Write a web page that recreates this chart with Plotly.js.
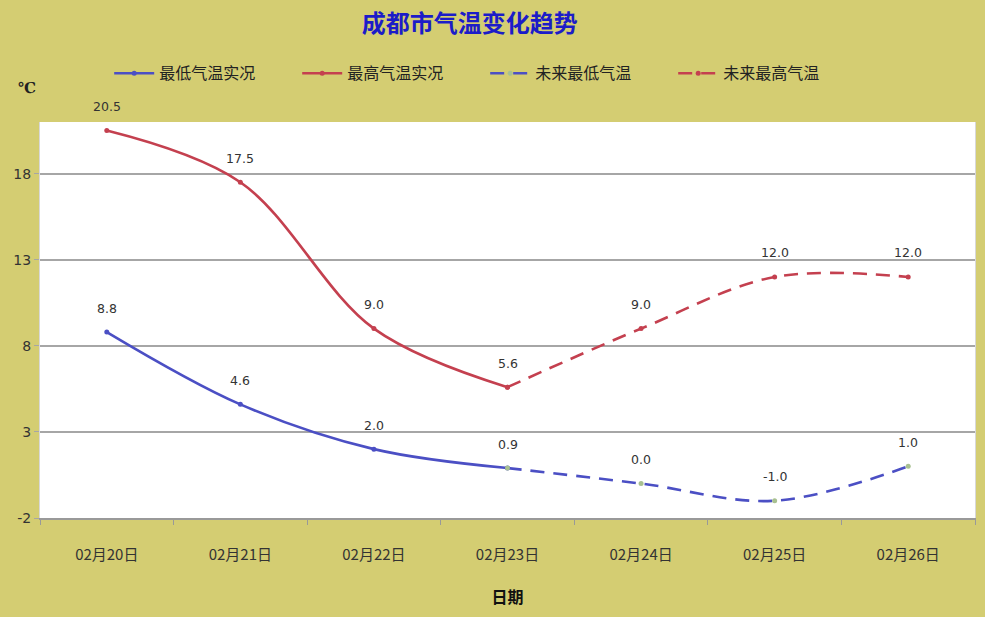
<!DOCTYPE html>
<html>
<head>
<meta charset="utf-8">
<script src="https://cdn.plot.ly/plotly-3.0.1.min.js"></script>
<style>html,body{margin:0;padding:0;background:#d4cd72;}#chart{width:985px;height:617px;}</style>
</head>
<body>
<div id="chart"></div>
<script>
const dates = ["02月20日","02月21日","02月22日","02月23日","02月24日","02月25日","02月26日"];
const lowTemps = [8.8, 4.6, 2.0, 0.9, 0.0, -1.0, 1.0];
const highTemps = [20.5, 17.5, 9.0, 5.6, 9.0, 12.0, 12.0];
const actualIdx = [0, 1, 2, 3];
const forecastIdx = [3, 4, 5, 6];
const yTicks = [-2, 3, 8, 13, 18];

const cjk = '"Noto Sans CJK SC", "Noto Sans", sans-serif';
const blue = '#4b4fc4';
const red = '#c4404f';

function pick(arr, idx) { return idx.map(i => arr[i]); }

function trace(name, idx, vals, color, dash, mcolor) {
  return {
    type: 'scatter', mode: 'lines+markers', name: name,
    x: pick(dates, idx), y: pick(vals, idx),
    line: {color: color, width: 2.6, dash: dash, shape: 'spline', smoothing: 1},
    marker: {size: 5, color: mcolor || color},
    hoverinfo: 'x+y'
  };
}

const dashPat = '14px,9px';
const data = [
  trace('最低气温实况', actualIdx, lowTemps, blue, 'solid'),
  trace('最高气温实况', actualIdx, highTemps, red, 'solid'),
  trace('未来最低气温', forecastIdx, lowTemps, blue, dashPat, '#a8c090'),
  trace('未来最高气温', forecastIdx, highTemps, red, dashPat)
];

const annotations = [];
[lowTemps, highTemps].forEach(vals => {
  vals.forEach((v, i) => {
    annotations.push({
      x: dates[i], y: v, xref: 'x', yref: 'y', text: v.toFixed(1),
      showarrow: false, yshift: 24,
      font: {family: '"DejaVu Sans", sans-serif', size: 12.5, color: '#333333'}
    });
  });
});
annotations.push({
  xref: 'paper', yref: 'paper', x: -0.014, y: 1.085, xanchor: 'center', yanchor: 'middle',
  text: '<b>℃</b>', showarrow: false,
  font: {family: '"DejaVu Serif", serif', size: 15, color: '#222222'}
});

const layout = {
  width: 985, height: 617,
  paper_bgcolor: '#d4cd72', plot_bgcolor: '#ffffff',
  margin: {l: 40, r: 10, t: 122, b: 99},
  title: {text: '<b>成都市气温变化趋势</b>', x: 0.477, xanchor: 'center', y: 0.962, yanchor: 'middle',
          font: {family: cjk, size: 24, color: '#1c1cc8'}},
  showlegend: true,
  legend: {orientation: 'h', x: 0.074, xanchor: 'left', y: 1.123, yanchor: 'middle',
           bgcolor: 'rgba(0,0,0,0)', font: {family: cjk, size: 16, color: '#222222'},
           entrywidth: 133, entrywidthmode: 'pixels', itemwidth: 40},
  xaxis: {
    type: 'category', range: [-0.5, 6.5], showgrid: false,
    ticks: 'outside', tickson: 'boundaries', ticklen: 5, tickcolor: '#999999',
    showline: true, linecolor: '#999999', linewidth: 1.5, mirror: false,
    ticklabelstandoff: 22,
    tickfont: {family: cjk, size: 15, color: '#333333'},
    title: {text: '<b>日期</b>', font: {family: cjk, size: 16, color: '#111111'}, standoff: 29},
    zeroline: false
  },
  yaxis: {
    range: [-2, 21], tickvals: yTicks, ticktext: yTicks.map(String),
    showgrid: true, gridcolor: '#a6a6a6', gridwidth: 1.5,
    ticks: 'outside', ticklen: 5, tickcolor: '#a6a6a6',
    showline: true, linecolor: '#d8d8d8', linewidth: 1, mirror: true,
    tickfont: {family: '"DejaVu Sans", sans-serif', size: 14, color: '#333333'},
    zeroline: false
  },
  annotations: annotations
};

Plotly.newPlot('chart', data, layout, {displayModeBar: false});
</script>
</body>
</html>
